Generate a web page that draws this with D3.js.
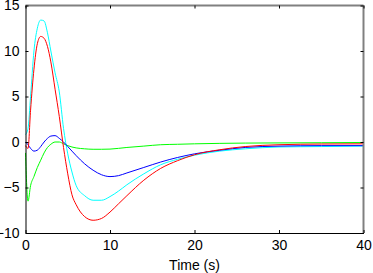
<!DOCTYPE html>
<html>
<head>
<meta charset="utf-8">
<script src="https://cdn.jsdelivr.net/npm/d3@7"></script>
<style>
  body { margin: 0; background: #fff; }
  svg { display: block; font-family: "Liberation Sans", Arial, sans-serif; }
</style>
</head>
<body>
<div id="chart"></div>
<script>
// Sample times (s)
const times = [0, 0.3, 0.6, 1, 1.4, 1.8, 2.2, 2.6, 3, 3.5, 4, 4.5, 5, 5.5, 6, 7, 8, 9, 10, 11, 12, 14, 16, 18, 20, 23, 26, 30, 35, 40];

// Series values
const redValues = [-0.4, -0.7, 3.5, 8, 10.8, 11.6, 11.4, 10.5, 8.8, 5.8, 2.8, -0.6, -3.5, -5.8, -6.9, -8.2, -8.6, -8.4, -7.7, -6.8, -5.9, -4.2, -2.9, -2.05, -1.4, -0.85, -0.5, -0.3, -0.22, -0.2];
const cyanValues = [0.8, 1.5, 5, 10, 12.5, 13.4, 13.3, 12, 10, 7.6, 5.5, 1.5, -1.3, -3.3, -4.8, -5.9, -6.4, -6.4, -6.0, -5.4, -4.7, -3.5, -2.5, -1.9, -1.45, -1.0, -0.75, -0.55, -0.5, -0.45];
const blueValues = [0, -0.3, -0.7, -1.0, -0.9, -0.5, 0, 0.4, 0.65, 0.7, 0.4, 0, -0.5, -1.0, -1.5, -2.4, -3.1, -3.6, -3.8, -3.7, -3.4, -2.8, -2.2, -1.7, -1.3, -0.9, -0.6, -0.45, -0.4, -0.4];
const greenValues = [-1.2, -6.5, -4.8, -3.8, -2.8, -2.0, -1.2, -0.6, -0.25, 0, 0, -0.2, -0.4, -0.55, -0.65, -0.75, -0.8, -0.8, -0.78, -0.7, -0.6, -0.45, -0.3, -0.25, -0.2, -0.15, -0.12, -0.1, -0.08, -0.05];

const xTicks = [0, 10, 20, 30, 40];
const yTicks = [-10, -5, 0, 5, 10, 15];

const series = [
  { name: 'green', color: '#00ff00', values: greenValues },
  { name: 'cyan', color: '#00ffff', values: cyanValues },
  { name: 'blue', color: '#0000ff', values: blueValues },
  { name: 'red', color: '#ff0000', values: redValues },
];

const width = 373;
const height = 273;
const margin = { top: 5.5, right: 9.5, bottom: 40, left: 25.5 };

const svg = d3.select('#chart').append('svg')
  .attr('width', width)
  .attr('height', height);

const x = d3.scaleLinear().domain([0, 40]).range([margin.left, width - margin.right]);
const y = d3.scaleLinear().domain([-10, 15]).range([height - margin.bottom, margin.top]);

const line = d3.line()
  .x((d) => x(d.t))
  .y((d) => y(d.v))
  .curve(d3.curveMonotoneX);

// Lines
series.forEach((s) => {
  const pts = times.map((t, i) => ({ t, v: s.values[i] }));
  svg.append('path')
    .datum(pts)
    .attr('fill', 'none')
    .attr('stroke', s.color)
    .attr('stroke-width', 1)
    .attr('d', line);
});

// Box (top/right grey)
svg.append('line')
  .attr('x1', x(0)).attr('x2', x(40))
  .attr('y1', y(15)).attr('y2', y(15))
  .attr('stroke', '#808080').attr('stroke-width', 2);
svg.append('line')
  .attr('x1', x(40)).attr('x2', x(40))
  .attr('y1', y(15)).attr('y2', y(-10))
  .attr('stroke', '#808080').attr('stroke-width', 2);

// Axes with inward ticks
const xAxis = svg.append('g')
  .attr('transform', `translate(0,${y(-10)})`)
  .call(d3.axisBottom(x).tickValues(xTicks).tickSizeInner(-3).tickSizeOuter(0).tickPadding(7));
const yAxis = svg.append('g')
  .attr('transform', `translate(${x(0)},0)`)
  .call(d3.axisLeft(y).tickValues(yTicks).tickSizeInner(-3).tickSizeOuter(0).tickPadding(6));

// top and right ticks
svg.append('g')
  .attr('transform', `translate(0,${y(15)})`)
  .call(d3.axisTop(x).tickValues(xTicks).tickSizeInner(-3).tickSizeOuter(0).tickFormat(''))
  .call((g) => g.select('.domain').remove());
svg.append('g')
  .attr('transform', `translate(${x(40)},0)`)
  .call(d3.axisRight(y).tickValues(yTicks).tickSizeInner(-3).tickSizeOuter(0).tickFormat(''))
  .call((g) => g.select('.domain').remove());

svg.selectAll('.tick line').attr('stroke', '#000');
[xAxis, yAxis].forEach((g) => {
  g.select('.domain').attr('stroke', '#000');
  g.selectAll('text')
    .attr('fill', '#000')
    .style('font-size', '14px');
});
xAxis.selectAll('text').attr('dy', '0.71em');

svg.append('text')
  .attr('x', x(20))
  .attr('y', 270)
  .attr('text-anchor', 'middle')
  .style('font-size', '14px')
  .attr('fill', '#000')
  .text('Time (s)');
</script>
</body>
</html>
